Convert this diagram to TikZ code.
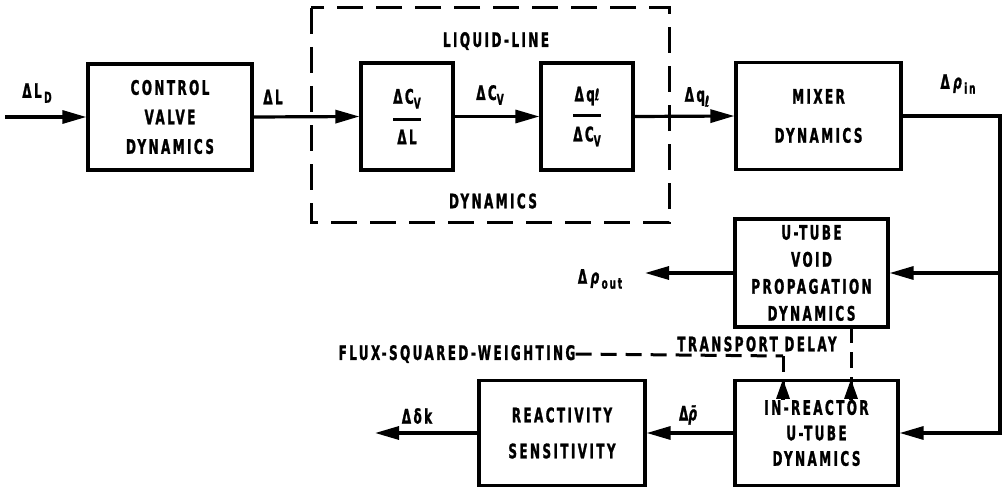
\documentclass[tikz,border=0pt]{standalone}
\usepackage{fontspec}
\setmainfont{DejaVu Sans}
\newfontfamily\lblfam{DejaVu Sans}[FakeStretch=0.6,LetterSpace=12,FakeBold=1.2]
\newcommand\lb{\lblfam\bfseries\fontsize{20}{24}\selectfont}
\newcommand\sub[1]{\raisebox{-0.45ex}{\fontsize{15}{15}\selectfont #1}}
\newcommand\hsub[1]{\raisebox{0.1ex}{\fontsize{16}{16}\selectfont #1}}
\newcommand\myfrac[2]{$\displaystyle{\hbox{#1}\above3pt\hbox{#2}}$}
\usetikzlibrary{arrows.meta}
\tikzset{
  blk/.style={draw,line width=3.2pt,align=center,inner sep=0pt,font=\lb},
  lab/.style={inner sep=0pt,font=\lb},
  arr/.style={line width=3.2pt,-{Triangle[length=24pt,width=13pt]}},
  sarr/.style={line width=3.2pt,-{Triangle[length=20pt,width=13pt]}},
  wire/.style={line width=3.2pt},
  dash box/.style={line width=3pt,dash pattern=on 26pt off 13pt},
  dline/.style={line width=3pt,dash pattern=on 16pt off 9pt},
}
\begin{document}
\begin{tikzpicture}[x=1pt,y=-1pt]
\useasboundingbox (0,0) rectangle (1002,487);

% dashed liquid-line box
\draw[dash box] (311,8) rectangle (669,222);
\node[lab] (ll) at (496,41) {LIQUID-LINE};
\node[lab] (lld) at (493,201) {DYNAMICS};

% blocks
\node[blk,minimum width=164pt,minimum height=106pt,font=\lb\fontsize{20}{29.5}\selectfont] (cv) at (170,117) {CONTROL\\VALVE\\DYNAMICS};
\node[blk,minimum width=92pt,minimum height=107pt] (f1) at (407,116.5) {\myfrac{ΔC\sub{V}}{ΔL}};
\node[blk,minimum width=92pt,minimum height=107pt] (f2) at (587,116.5) {\myfrac{Δq\hsub{\itshape ℓ}}{ΔC\sub{V}}};
\node[blk,minimum width=165pt,minimum height=107pt,font=\lb\fontsize{20}{39}\selectfont] (mix) at (818.5,116) {MIXER\\DYNAMICS};
\node[blk,minimum width=153pt,minimum height=108pt,font=\lb\fontsize{20}{27}\selectfont] (void) at (811.5,273) {U-TUBE\\VOID\\PROPAGATION\\DYNAMICS};
\node[blk,minimum width=163pt,minimum height=105pt,font=\lb\fontsize{20}{25.5}\selectfont] (inr) at (816.5,433) {IN-REACTOR\\U-TUBE\\DYNAMICS};
\node[blk,minimum width=166pt,minimum height=105pt,font=\lb\fontsize{20}{36}\selectfont] (rea) at (562,433) {REACTIVITY\\SENSITIVITY};

% coordinates
\coordinate (in) at (5,117);
\coordinate (r1) at (1000,116);
\coordinate (rj) at (1000,273);
\coordinate (r2) at (1000,433);
\coordinate (vout) at (645,273);
\coordinate (dk) at (375,433);
\coordinate (td1) at (851,327);
\coordinate (fx) at (783,356);

% connectors
\draw[arr] (in) -- (cv.west);
\draw[arr] (cv.east) -- (f1.west);
\draw[arr] (f1.east) -- (f2.west);
\draw[arr] (f2.east) -- (mix.west);
\draw[wire] (mix.east) -- (r1) -- (rj);
\draw[arr] (rj) -- (void.east);
\draw[arr] (rj) -- (r2) -- (inr.east);
\draw[arr] (void.west) -- (vout);
\draw[arr] (inr.west) -- (rea.east);
\draw[arr] (rea.west) -- (dk);

% flux weighting / transport delay
\node[lab] (flux) at (457,354) {FLUX-SQUARED-WEIGHTING};
\node[lab] (td) at (757,344) {TRANSPORT DELAY};
\draw[dline] (flux.east) -- (fx);
\draw[dline] (fx) -- ([yshift=-20pt]fx |- inr.north);
\draw[sarr] ([yshift=-21pt]fx |- inr.north) -- (fx |- inr.north);
\draw[dline] (td1) -- ([yshift=-20pt]td1 |- inr.north);
\draw[sarr] ([yshift=-21pt]td1 |- inr.north) -- (td1 |- inr.north);

% signal labels
\node[lab] (lD) at (37,93) {ΔL\sub{\,D}};
\node[lab] (lL) at (273,97) {ΔL};
\node[lab] (lcv) at (490,95) {ΔC\sub{V}};
\node[lab] (lq) at (697,97) {Δq\sub{\itshape ℓ}};
\node[lab] (lin) at (958,84) {Δ\,{\itshape ρ}\sub{\,in}};
\node[lab] (lout) at (600,279) {Δ\,{\itshape ρ}\sub{\,out}};
\node[lab] (lrho) at (688,415) {Δ{\itshape \=ρ}};
\node[lab] (ldk) at (417,416) {Δδk};
\end{tikzpicture}
\end{document}
